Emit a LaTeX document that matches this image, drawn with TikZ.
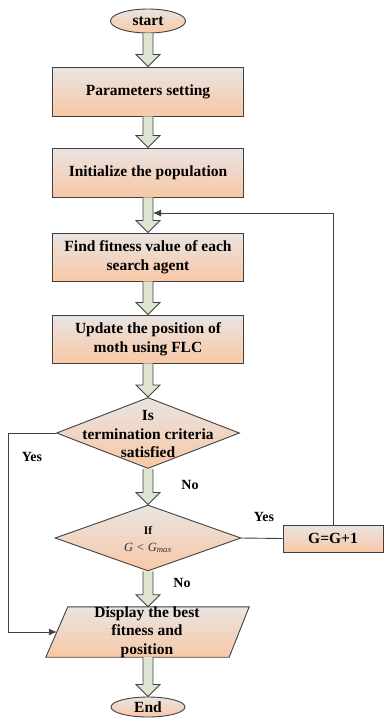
\documentclass[tikz,border=0pt]{standalone}
\usepackage{fontspec}
\setmainfont{Liberation Serif}
\usetikzlibrary{shapes.geometric,calc,arrows.meta}
\definecolor{topc}{RGB}{233,228,225}
\definecolor{botc}{RGB}{248,200,166}
\definecolor{edgec}{RGB}{64,64,64}
\definecolor{arrfill}{RGB}{221,229,208}
\definecolor{formc}{RGB}{50,50,60}
\tikzset{
  every node/.style={font=\fontsize{15.5}{18.5}\selectfont\bfseries, text=black},
  shadedbox/.style={draw=edgec, line width=0.9pt, top color=topc, bottom color=botc, inner sep=0pt},
  proc/.style={shadedbox, rectangle, minimum width=191pt, minimum height=48pt, align=center},
  term/.style={shadedbox, ellipse},
  dia/.style={shadedbox, diamond, minimum width=183pt, minimum height=71pt},
  paraframe/.style={rectangle, inner sep=0pt, minimum width=182pt, minimum height=50pt},
  txt/.style={align=center, inner sep=0pt},
  lbl/.style={font=\fontsize{14}{16}\selectfont\bfseries, inner sep=0pt},
  conn/.style={draw=edgec, line width=0.9pt},
  barr/.style={draw=edgec, line width=0.8pt, fill=arrfill, line join=miter},
}
\newcommand\blockarr[2]{%
  \filldraw[barr] let \p1=(#1), \p2=(#2) in
    (\x2-5pt,\y1) -- (\x2-5pt,\y2+12pt) -- (\x2-12pt,\y2+12pt) -- (\x2,\y2)
    -- (\x2+12pt,\y2+12pt) -- (\x2+5pt,\y2+12pt) -- (\x2+5pt,\y1);}
\begin{document}
\begin{tikzpicture}[x=1pt,y=-1pt]
\useasboundingbox (0,0) rectangle (385,718);
% nodes
\node[term, minimum width=75pt, minimum height=24pt] (start) at (148,21) {start};
\node[proc, minimum height=49pt] (p1) at (148,91.5) {Parameters setting};
\node[proc, minimum height=49pt] (p2) at (148,172.5) {Initialize the population};
\node[proc] (p3) at (148,257) {Find fitness value of each\\search agent};
\node[proc] (p4) at (148,339) {Update the position of\\moth using FLC};
\node[dia] (d1) at (148,433) {};
\node[txt] (d1t) at (148,434) {Is\\termination criteria\\satisfied};
\node[dia, minimum width=186pt, minimum height=66pt] (d2) at (148,538) {};
\node[anchor=base, inner sep=0pt, font=\fontsize{11.5}{13}\selectfont\bfseries] (d2a) at (148,534) {If};
\node[anchor=base, inner sep=0pt, font=\fontsize{12.5}{14}\selectfont\itshape, text=formc] (d2b) at (148,551) {G < G\textsubscript{max}};
\node[proc, minimum width=100pt, minimum height=27pt] (g) at (333,538.5) {G=G+1};
\node[paraframe] (disp) at (148,632) {};
\path[shadedbox] ($(disp.north west)+(11,0)$) -- ($(disp.north east)+(10,0)$)
  -- ($(disp.south east)+(-10,0)$) -- ($(disp.south west)+(-11,0)$) -- cycle;
\node[txt] (dispt) at (147,632) {Display the best\\fitness and\\position};
\node[term, minimum width=74pt, minimum height=20pt] (end) at (148,707) {End};
% block arrows
\blockarr{start.south}{p1.north}
\blockarr{p1.south}{p2.north}
\blockarr{p2.south}{p3.north}
\blockarr{p3.south}{p4.north}
\blockarr{p4.south}{d1.north}
\blockarr{d1.south}{d2.north}
\blockarr{d2.south}{disp.north}
\blockarr{disp.south}{end.north}
% connectors
\coordinate (fb) at (153,213);
\draw[conn, -{Latex[length=8pt,width=7pt]}] (g.north) |- (fb);
\draw[conn] (d2.east) -- (g.west);
\draw[conn, -{Latex[length=8pt,width=7pt]}] (d1.west) -- ++(-48,0) |- (disp.west);
% labels
\node[lbl] (y1) at (32,457) {Yes};
\node[lbl] (n1) at (190,485) {No};
\node[lbl] (y2) at (264,517) {Yes};
\node[lbl] (n2) at (182,583) {No};
\end{tikzpicture}
\end{document}
